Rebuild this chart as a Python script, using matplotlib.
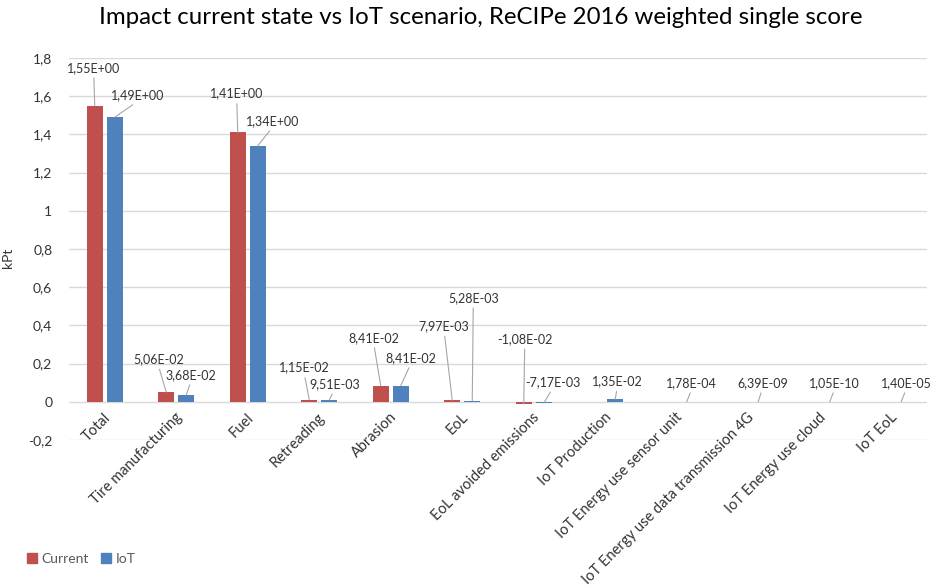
import numpy as np
import matplotlib
matplotlib.use("Agg")
import matplotlib.pyplot as plt
from matplotlib.patches import Patch

plt.rcParams["font.family"] = ["Lato", "DejaVu Sans"]

# ---- data (kPt) ----
categories = ["Total", "Tire manufacturing", "Fuel", "Retreading", "Abrasion", "EoL",
              "EoL avoided emissions", "IoT Production", "IoT Energy use sensor unit",
              "IoT Energy use data transmission 4G", "IoT Energy use cloud", "IoT EoL"]
current = [1.55, 5.06e-02, 1.41, 1.15e-02, 8.41e-02, 7.97e-03, -1.08e-02,
           np.nan, np.nan, np.nan, np.nan, np.nan]
iot = [1.49, 3.68e-02, 1.34, 9.51e-03, 8.41e-02, 5.28e-03, -7.17e-03,
       1.35e-02, 1.78e-04, 6.39e-09, 1.05e-10, 1.40e-05]
yticks = [-0.2, 0, 0.2, 0.4, 0.6, 0.8, 1, 1.2, 1.4, 1.6, 1.8]

# label offsets from bar end, in pixels (dx, dy)
off_current = [(-1, 38), (-8, 33), (-1, 39), (-5, 32), (-7, 48), (-8, 74), (1, 65),
               None, None, None, None, None]
off_iot = [(23, 22), (5, 20), (15, 25), (5, 16), (10, 28), (1, 103), (9, 21),
           (2, 18), (5, 19), (4, 19), (5, 19), (5, 19)]

RED, BLUE = "#C0504D", "#4F81BD"
TXT = "#333333"

fig = plt.figure(figsize=(9.3, 5.86), dpi=100)
ax = fig.add_axes([69 / 930, 1 - 440 / 586, 858 / 930, 382 / 586])

x = np.arange(len(categories))
w, sh = 0.224, 0.14
ax.bar(x - sh, current, w, color=RED, zorder=3)
ax.bar(x + sh, iot, w, color=BLUE, zorder=3)


def fmt(v):
    return f"{v:.2E}".replace(".", ",")


for vals, offs, s in ((current, off_current, -sh), (iot, off_iot, sh)):
    for i, (v, o) in enumerate(zip(vals, offs)):
        if o is None or np.isnan(v):
            continue
        ax.annotate(fmt(v), xy=(i + s, v), xytext=o, textcoords="offset pixels",
                    ha="center", va="center", fontsize=9, color=TXT, zorder=4,
                    arrowprops=dict(arrowstyle="-", color="#a6a6a6", lw=0.8,
                                    shrinkA=1, shrinkB=0, relpos=(0.5, 0)))

ax.set_xlim(-0.5, len(categories) - 0.5)
ax.set_ylim(-0.2, 1.8)
ax.set_yticks(yticks)
ax.set_yticklabels([f"{round(t, 1):g}".replace(".", ",") for t in yticks],
                   fontsize=10, color=TXT)
ax.tick_params(axis="y", length=0, pad=12)
ax.set_xticks([])
ax.grid(axis="y", color="#d9d9d9", lw=1, zorder=0)
for sp in ax.spines.values():
    sp.set_visible(False)

for i, c in enumerate(categories):
    ax.text(i + 0.05, -0.07, c, rotation=45, rotation_mode="anchor",
            ha="right", va="center", fontsize=10.5, color=TXT)

ax.set_ylabel("kPt", fontsize=10, color=TXT)
ax.yaxis.set_label_coords(-55 / 858, (258 - 440) / -382)
fig.suptitle("Impact current state vs IoT scenario, ReCIPe 2016 weighted single score",
             x=481 / 930, y=1 - 18 / 586, va="center", fontsize=17.3, color="black")

handles = [Patch(color=RED, label="Current"), Patch(color=BLUE, label="IoT")]
fig.legend(handles=handles, loc="center left", bbox_to_anchor=(14 / 930, 1 - 559 / 586),
           ncol=2, frameon=False, fontsize=10, labelcolor="#595959",
           handlelength=0.75, handleheight=0.75, handletextpad=0.3, columnspacing=0.9)

fig.savefig("out.png", dpi=100)
